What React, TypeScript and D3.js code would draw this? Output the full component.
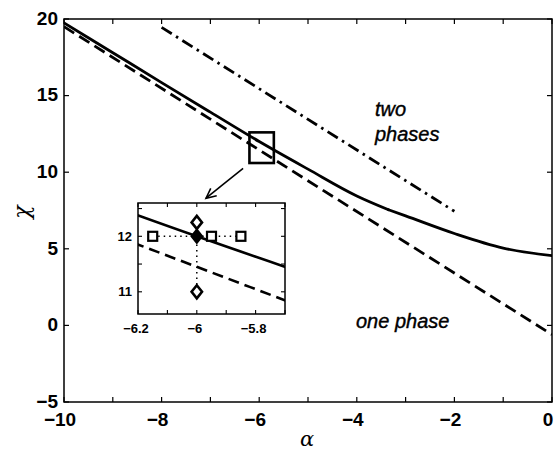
import React from "react";
import * as d3 from "d3";

// Phase boundary curves, chi as a function of alpha
const solidAlpha = [-10, -9, -8, -7, -6, -5, -4, -3.35, -3, -2, -1, 0];
const solidChi = [19.75, 17.8, 15.85, 13.92, 12.0, 10.2, 8.45, 7.55, 7.15, 6.0, 5.05, 4.55];
// alpha where the solid boundary changes slope
const solidKnee = -3.35;
const dashedAlpha = [-10, -6, 0];
const dashedChi = [19.5, 11.45, -0.6];
const dashDotAlpha = [-8, -2];
const dashDotChi = [19.45, 7.45];

// Inset sample points
const squareAlpha = [-6.15, -5.95, -5.85];
const squareChi = [12, 12, 12];
const diamondAlpha = [-6, -6];
const diamondChi = [12.25, 11];
const centerPoint = [-6, 12];

// Tick values
const mainXTicks = d3.range(-10, 0.001, 1);
const mainXLabels = [-10, -8, -6, -4, -2, 0];
const mainYTicks = [-5, 0, 5, 10, 15, 20];
const insetXTicks = [-6.2, -6.1, -6.0, -5.9, -5.8, -5.7];
const insetXLabels = [-6.2, -6, -5.8];
const insetYTicks = [11, 11.5, 12, 12.5];
const insetYLabels = [11, 12];

// Zoom window shown in the inset
const zoomAlpha = [-6.2, -5.7];
const zoomChi = [10.6, 12.6];

// Arrow from zoom window to inset
const arrowFrom = [-6.33, 10.25];
const arrowTo = [-7.09, 8.3];

const fmt = (v: number) => (v < 0 ? "\u2212" + String(Math.abs(v)) : String(v));

export default function App() {
  const W = 555;
  const H = 450;
  const x = d3.scaleLinear().domain([-10, 0]).range([64, 552]);
  const y = d3.scaleLinear().domain([-5, 20]).range([402, 19]);
  const ix = d3.scaleLinear().domain(zoomAlpha).range([138, 285]);
  const iy = d3.scaleLinear().domain(zoomChi).range([314, 203]);

  const mk = (xs: number[], ys: number[]) => xs.map((a, i) => [a, ys[i]] as [number, number]);
  const solid = mk(solidAlpha, solidChi);
  const solidUpper = solid.filter((d) => d[0] <= solidKnee);
  const solidLower = solid.filter((d) => d[0] >= solidKnee);
  const dashed = mk(dashedAlpha, dashedChi);
  const dashDot = mk(dashDotAlpha, dashDotChi);

  const lineMain = d3
    .line<[number, number]>()
    .x((d) => x(d[0]))
    .y((d) => y(d[1]))
    .curve(d3.curveMonotoneX);
  const lineInset = d3
    .line<[number, number]>()
    .x((d) => ix(d[0]))
    .y((d) => iy(d[1]))
    .curve(d3.curveMonotoneX);

  const font = "'Liberation Sans', Arial, Helvetica, sans-serif";
  const tickLen = 5;
  const iTick = 4;

  // Arrowhead geometry
  const ax1 = x(arrowFrom[0]);
  const ay1 = y(arrowFrom[1]);
  const ax2 = x(arrowTo[0]);
  const ay2 = y(arrowTo[1]);
  const ang = Math.atan2(ay2 - ay1, ax2 - ax1);
  const headLen = 11;
  const headA = Math.PI / 7;
  const h1 = [ax2 - headLen * Math.cos(ang - headA), ay2 - headLen * Math.sin(ang - headA)];
  const h2 = [ax2 - headLen * Math.cos(ang + headA), ay2 - headLen * Math.sin(ang + headA)];

  const diamond = (cx: number, cy: number, r: number) =>
    `M${cx},${cy - r}L${cx + r * 0.8},${cy}L${cx},${cy + r}L${cx - r * 0.8},${cy}Z`;

  const solidPath = (lineFn: d3.Line<[number, number]>) =>
    (lineFn(solidUpper) || "") + (lineFn(solidLower) || "");

  return (
    <svg
      width={W}
      height={H}
      style={{ position: "absolute", left: 0, top: 0, background: "#fff" }}
      fontFamily={font}
    >
      <defs>
        <clipPath id="mainClip">
          <rect x={64} y={19} width={488} height={383} />
        </clipPath>
        <clipPath id="insetClip">
          <rect x={138} y={203} width={147} height={111} />
        </clipPath>
      </defs>
      <rect width={W} height={H} fill="#fff" />

      {/* main curves */}
      <g clipPath="url(#mainClip)" fill="none" stroke="#000" strokeLinejoin="round" strokeLinecap="round">
        <path d={lineMain(solidUpper) || ""} strokeWidth={2.8} />
        <path d={lineMain(solidLower) || ""} strokeWidth={2.8} />
      </g>
      <g clipPath="url(#mainClip)" fill="none" stroke="#000">
        <path d={lineMain(dashed) || ""} strokeWidth={2.8} strokeDasharray="12,6" />
        <path d={lineMain(dashDot) || ""} strokeWidth={2.8} strokeDasharray="12,5,2.5,5" />
      </g>

      {/* zoom window */}
      <rect
        x={x(zoomAlpha[0])}
        y={y(zoomChi[1])}
        width={x(zoomAlpha[1]) - x(zoomAlpha[0])}
        height={y(zoomChi[0]) - y(zoomChi[1])}
        fill="none"
        stroke="#000"
        strokeWidth={2.6}
      />

      {/* arrow */}
      <g stroke="#000" strokeWidth={1.6} fill="none">
        <line x1={ax1} y1={ay1} x2={ax2} y2={ay2} />
        <polyline points={`${h1[0]},${h1[1]} ${ax2},${ay2} ${h2[0]},${h2[1]}`} />
      </g>

      {/* main axes box */}
      <rect x={64} y={19} width={488} height={383} fill="none" stroke="#000" strokeWidth={1.5} />
      <g stroke="#000" strokeWidth={1.2}>
        {mainXTicks.map((t) => (
          <g key={"xt" + t}>
            <line x1={x(t)} x2={x(t)} y1={402} y2={402 - tickLen} />
            <line x1={x(t)} x2={x(t)} y1={19} y2={19 + tickLen} />
          </g>
        ))}
        {mainYTicks.map((t) => (
          <g key={"yt" + t}>
            <line x1={64} x2={64 + tickLen} y1={y(t)} y2={y(t)} />
            <line x1={552} x2={552 - tickLen} y1={y(t)} y2={y(t)} />
          </g>
        ))}
      </g>
      <g fontSize={19} fontWeight="bold" fill="#000">
        {mainXLabels.map((t) => (
          <text key={"xl" + t} x={x(t) - 4} y={426} textAnchor="middle">
            {fmt(t)}
          </text>
        ))}
        {mainYTicks.map((t) => (
          <text key={"yl" + t} x={58} y={y(t) - 1} dy="0.36em" textAnchor="end">
            {fmt(t)}
          </text>
        ))}
      </g>

      {/* axis labels */}
      <text x={307} y={446} textAnchor="middle" fontFamily="'DejaVu Serif', 'Liberation Serif', serif" fontStyle="italic" fontSize={21}>
        α
      </text>
      <text
        transform="translate(22,212) rotate(-90)"
        textAnchor="middle"
        dy="0.3em"
        fontFamily="'DejaVu Serif', 'Liberation Serif', serif"
        fontStyle="italic"
        fontSize={22}
      >
        χ
      </text>

      {/* region labels */}
      <g fontStyle="italic" fontSize={20} fill="#000" stroke="#000" strokeWidth={0.4}>
        <text x={375} y={116}>two</text>
        <text x={375} y={141}>phases</text>
        <text x={356} y={328}>one phase</text>
      </g>

      {/* inset */}
      <rect x={138} y={203} width={147} height={111} fill="#fff" />
      <g clipPath="url(#insetClip)" fill="none" stroke="#000">
        <path d={solidPath(lineInset)} strokeWidth={2.6} />
        <path d={lineInset(dashed) || ""} strokeWidth={2.6} strokeDasharray="11,6" />
        <line
          x1={ix(squareAlpha[0])}
          x2={ix(squareAlpha[squareAlpha.length - 1])}
          y1={iy(12)}
          y2={iy(12)}
          strokeWidth={1.5}
          strokeDasharray="1.5,4"
        />
        <line
          x1={ix(-6)}
          x2={ix(-6)}
          y1={iy(diamondChi[0])}
          y2={iy(diamondChi[1])}
          strokeWidth={1.5}
          strokeDasharray="1.5,4"
        />
      </g>
      <g fill="#fff" stroke="#000" strokeWidth={2.2}>
        {squareAlpha.map((a, i) => (
          <rect key={"sq" + i} x={ix(a) - 4.5} y={iy(squareChi[i]) - 4.5} width={9} height={9} />
        ))}
        {diamondAlpha.map((a, i) => (
          <path key={"dm" + i} d={diamond(ix(a), iy(diamondChi[i]), 6.5)} strokeWidth={2.6} />
        ))}
        <path d={diamond(ix(centerPoint[0]), iy(centerPoint[1]), 6.5)} fill="#000" />
      </g>
      <rect x={138} y={203} width={147} height={111} fill="none" stroke="#000" strokeWidth={1.5} />
      <g stroke="#000" strokeWidth={1.1}>
        {insetXTicks.map((t) => (
          <g key={"ixt" + t}>
            <line x1={ix(t)} x2={ix(t)} y1={314} y2={314 - iTick} />
            <line x1={ix(t)} x2={ix(t)} y1={203} y2={203 + iTick} />
          </g>
        ))}
        {insetYTicks.map((t) => (
          <g key={"iyt" + t}>
            <line x1={138} x2={138 + iTick} y1={iy(t)} y2={iy(t)} />
            <line x1={285} x2={285 - iTick} y1={iy(t)} y2={iy(t)} />
          </g>
        ))}
      </g>
      <g fontSize={13} fontWeight="bold" fill="#000">
        {insetXLabels.map((t) => (
          <text key={"ixl" + t} x={ix(t) - 2} y={333} textAnchor="middle">
            {fmt(t)}
          </text>
        ))}
        {insetYLabels.map((t) => (
          <text key={"iyl" + t} x={132} y={iy(t)} dy="0.36em" textAnchor="end">
            {fmt(t)}
          </text>
        ))}
      </g>
    </svg>
  );
}
